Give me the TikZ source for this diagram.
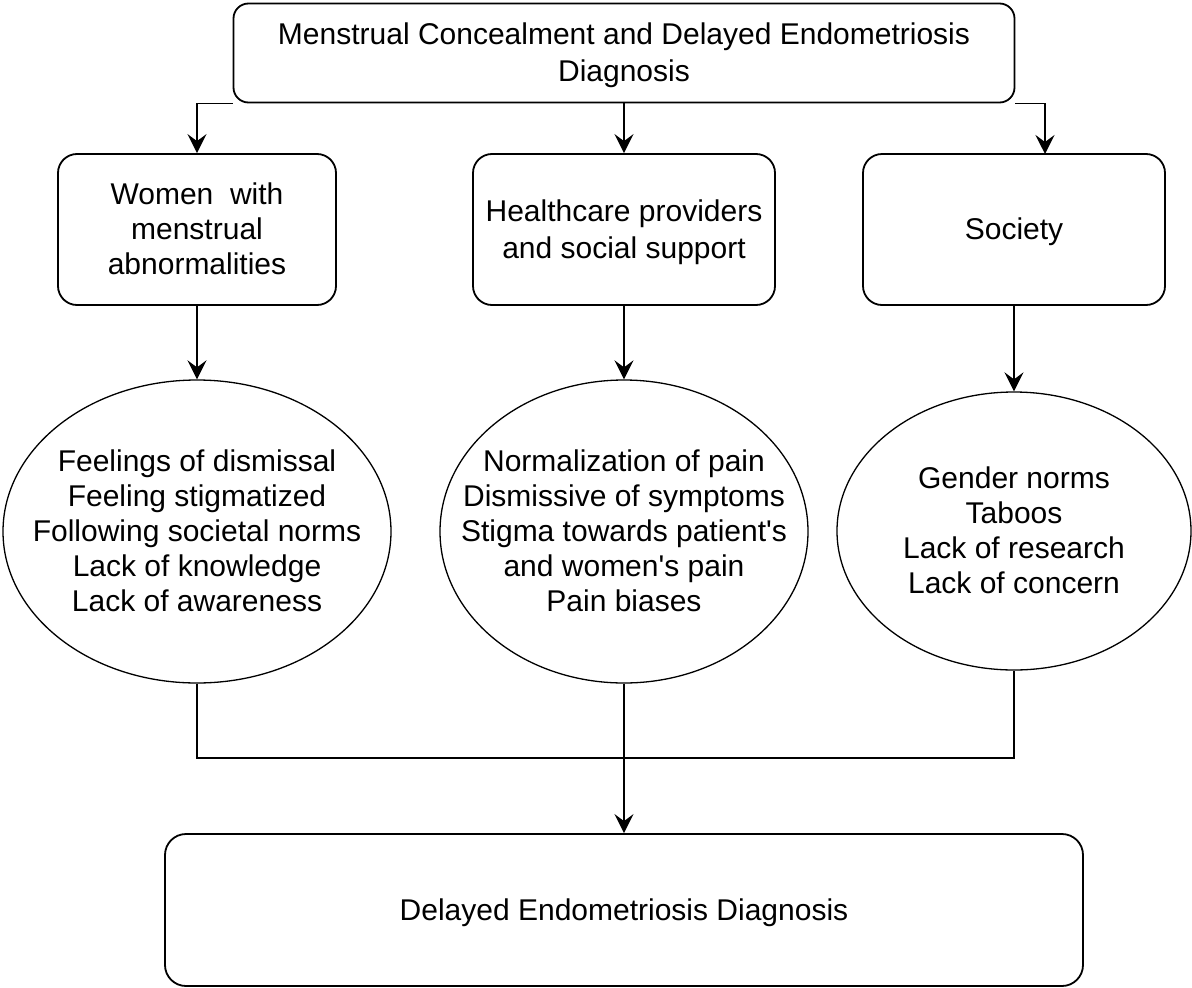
\documentclass[tikz,border=0pt]{standalone}
\usepackage{fontspec}
\setmainfont{Liberation Sans}[Ligatures=TeXOff]
\usetikzlibrary{shapes.geometric,arrows.meta}
\newcommand\hi{\rule[-8pt]{0pt}{36pt}}

\begin{document}
\begin{tikzpicture}
      [x=1pt, y=-1pt, line width=1.8pt,
      box/.style={draw, rounded corners=19pt, align=center, inner sep=0pt,
        font=\fontsize{30}{34.8}\selectfont},
      oval/.style={draw, ellipse, line width=1.3pt, inner sep=0pt},
      txt/.style={align=center, inner sep=0pt, font=\fontsize{30}{34.8}\selectfont},
      arr/.style={-{Stealth[length=19pt,width=19pt,inset=7pt]}}]

      \useasboundingbox (0,0) rectangle (1192,988);

      % top and second row
      \node[box, rounded corners=15pt, minimum width=781pt, minimum height=99pt] (top) at (624,53)
        {\hi Menstrual Concealment and Delayed Endometriosis\\Diagnosis\hi};
      \node[box, minimum width=278pt, minimum height=151pt] (women) at (197,229.5)
        {\hi Women\ \ with\\menstrual\\abnormalities\hi};
      \node[box, minimum width=302pt, minimum height=151pt] (care) at (624,229.5)
        {\hi Healthcare providers\\and social support\hi};
      \node[box, minimum width=302pt, minimum height=151pt] (society) at (1014,229.5)
        {\hi Society};

      % ellipses
      \node[oval, minimum width=388pt, minimum height=303pt] (e1) at (197,531.5) {};
      \node[txt] (e1t) at (e1) {\hi Feelings of dismissal\\Feeling stigmatized\\Following societal norms\\Lack of knowledge\\Lack of awareness\hi};
      \node[oval, minimum width=368pt, minimum height=303pt] (e2) at (624,531.5) {};
      \node[txt] (e2t) at (e2) {\hi Normalization of pain\\Dismissive of symptoms\\Stigma towards patient's\\and women's pain\\Pain biases\hi};
      \node[oval, minimum width=354pt, minimum height=278pt] (e3) at (1014,531) {};
      \node[txt] (e3t) at (e3) {\hi Gender norms\\Taboos\\Lack of research\\Lack of concern\hi};

      \node[box, rounded corners=21pt, minimum width=918pt, minimum height=152pt] (delay) at (624,910)
        {\hi Delayed Endometriosis Diagnosis};

      \coordinate (join) at (624,758);
      \coordinate (right) at (1045,154);

      \draw[arr] (top.south west) -| (women.north);
      \draw[arr] (top.south) -- (care.north);
      \draw[arr] (top.south east) -| (right);
      \draw[arr] (women.south) -- (e1.north);
      \draw[arr] (care.south) -- (e2.north);
      \draw[arr] (society.south) -- (e3.north);
      \draw (e1.south) |- (join) -| (e3.south);
      \draw[arr] (e2.south) -- (delay.north);
    \end{tikzpicture}
\end{document}
